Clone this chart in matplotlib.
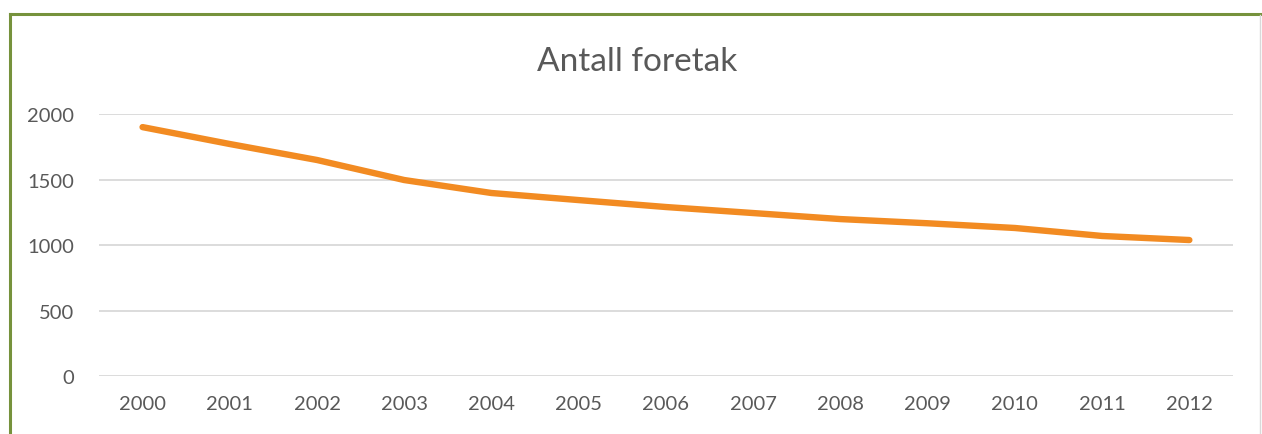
import matplotlib.pyplot as plt

years = ['2000', '2001', '2002', '2003', '2004', '2005', '2006',
         '2007', '2008', '2009', '2010', '2011', '2012']
antall = [1900, 1771, 1649, 1496, 1397, 1343, 1290, 1244, 1198, 1166, 1130, 1069, 1038]
yticks = [0, 500, 1000, 1500, 2000]

plt.rcParams['font.family'] = ['Lato', 'DejaVu Sans']

fig = plt.figure(figsize=(12.62, 4.35), dpi=100)
ax = fig.add_axes([0.0784, 0.1333, 0.8986, 0.6023])

x = range(len(years))
ax.plot(x, antall, color='#F28B22', lw=4.6, solid_capstyle='round', zorder=3)

ax.set_xlim(-0.5, len(years) - 0.5)
ax.set_ylim(0, 2000)
ax.set_xticks(list(x))
ax.set_xticklabels(years)
ax.set_yticks(yticks)
ax.grid(axis='y', color='#D9D9D9', lw=1.3)
ax.set_axisbelow(True)
for s in ax.spines.values():
    s.set_visible(False)
ax.tick_params(length=0, labelsize=14.5, colors='#595959', pad=14)
ax.tick_params(axis='y', pad=18)

fig.text(0.505, 0.857, 'Antall foretak', ha='center', va='center',
         fontsize=24, color='#595959')

# chart area border (green left/top, grey right)
fig.add_artist(plt.Line2D([10 / 1262, 10 / 1262], [0, 1 - 15 / 435],
                          transform=fig.transFigure, color='#76923C', lw=2.2))
fig.add_artist(plt.Line2D([10 / 1262, 1], [1 - 15 / 435, 1 - 15 / 435],
                          transform=fig.transFigure, color='#76923C', lw=2.2))
fig.add_artist(plt.Line2D([1260 / 1262, 1260 / 1262], [0, 1 - 16 / 435],
                          transform=fig.transFigure, color='#D9D9D9', lw=1))

fig.savefig('out.png', dpi=100)
